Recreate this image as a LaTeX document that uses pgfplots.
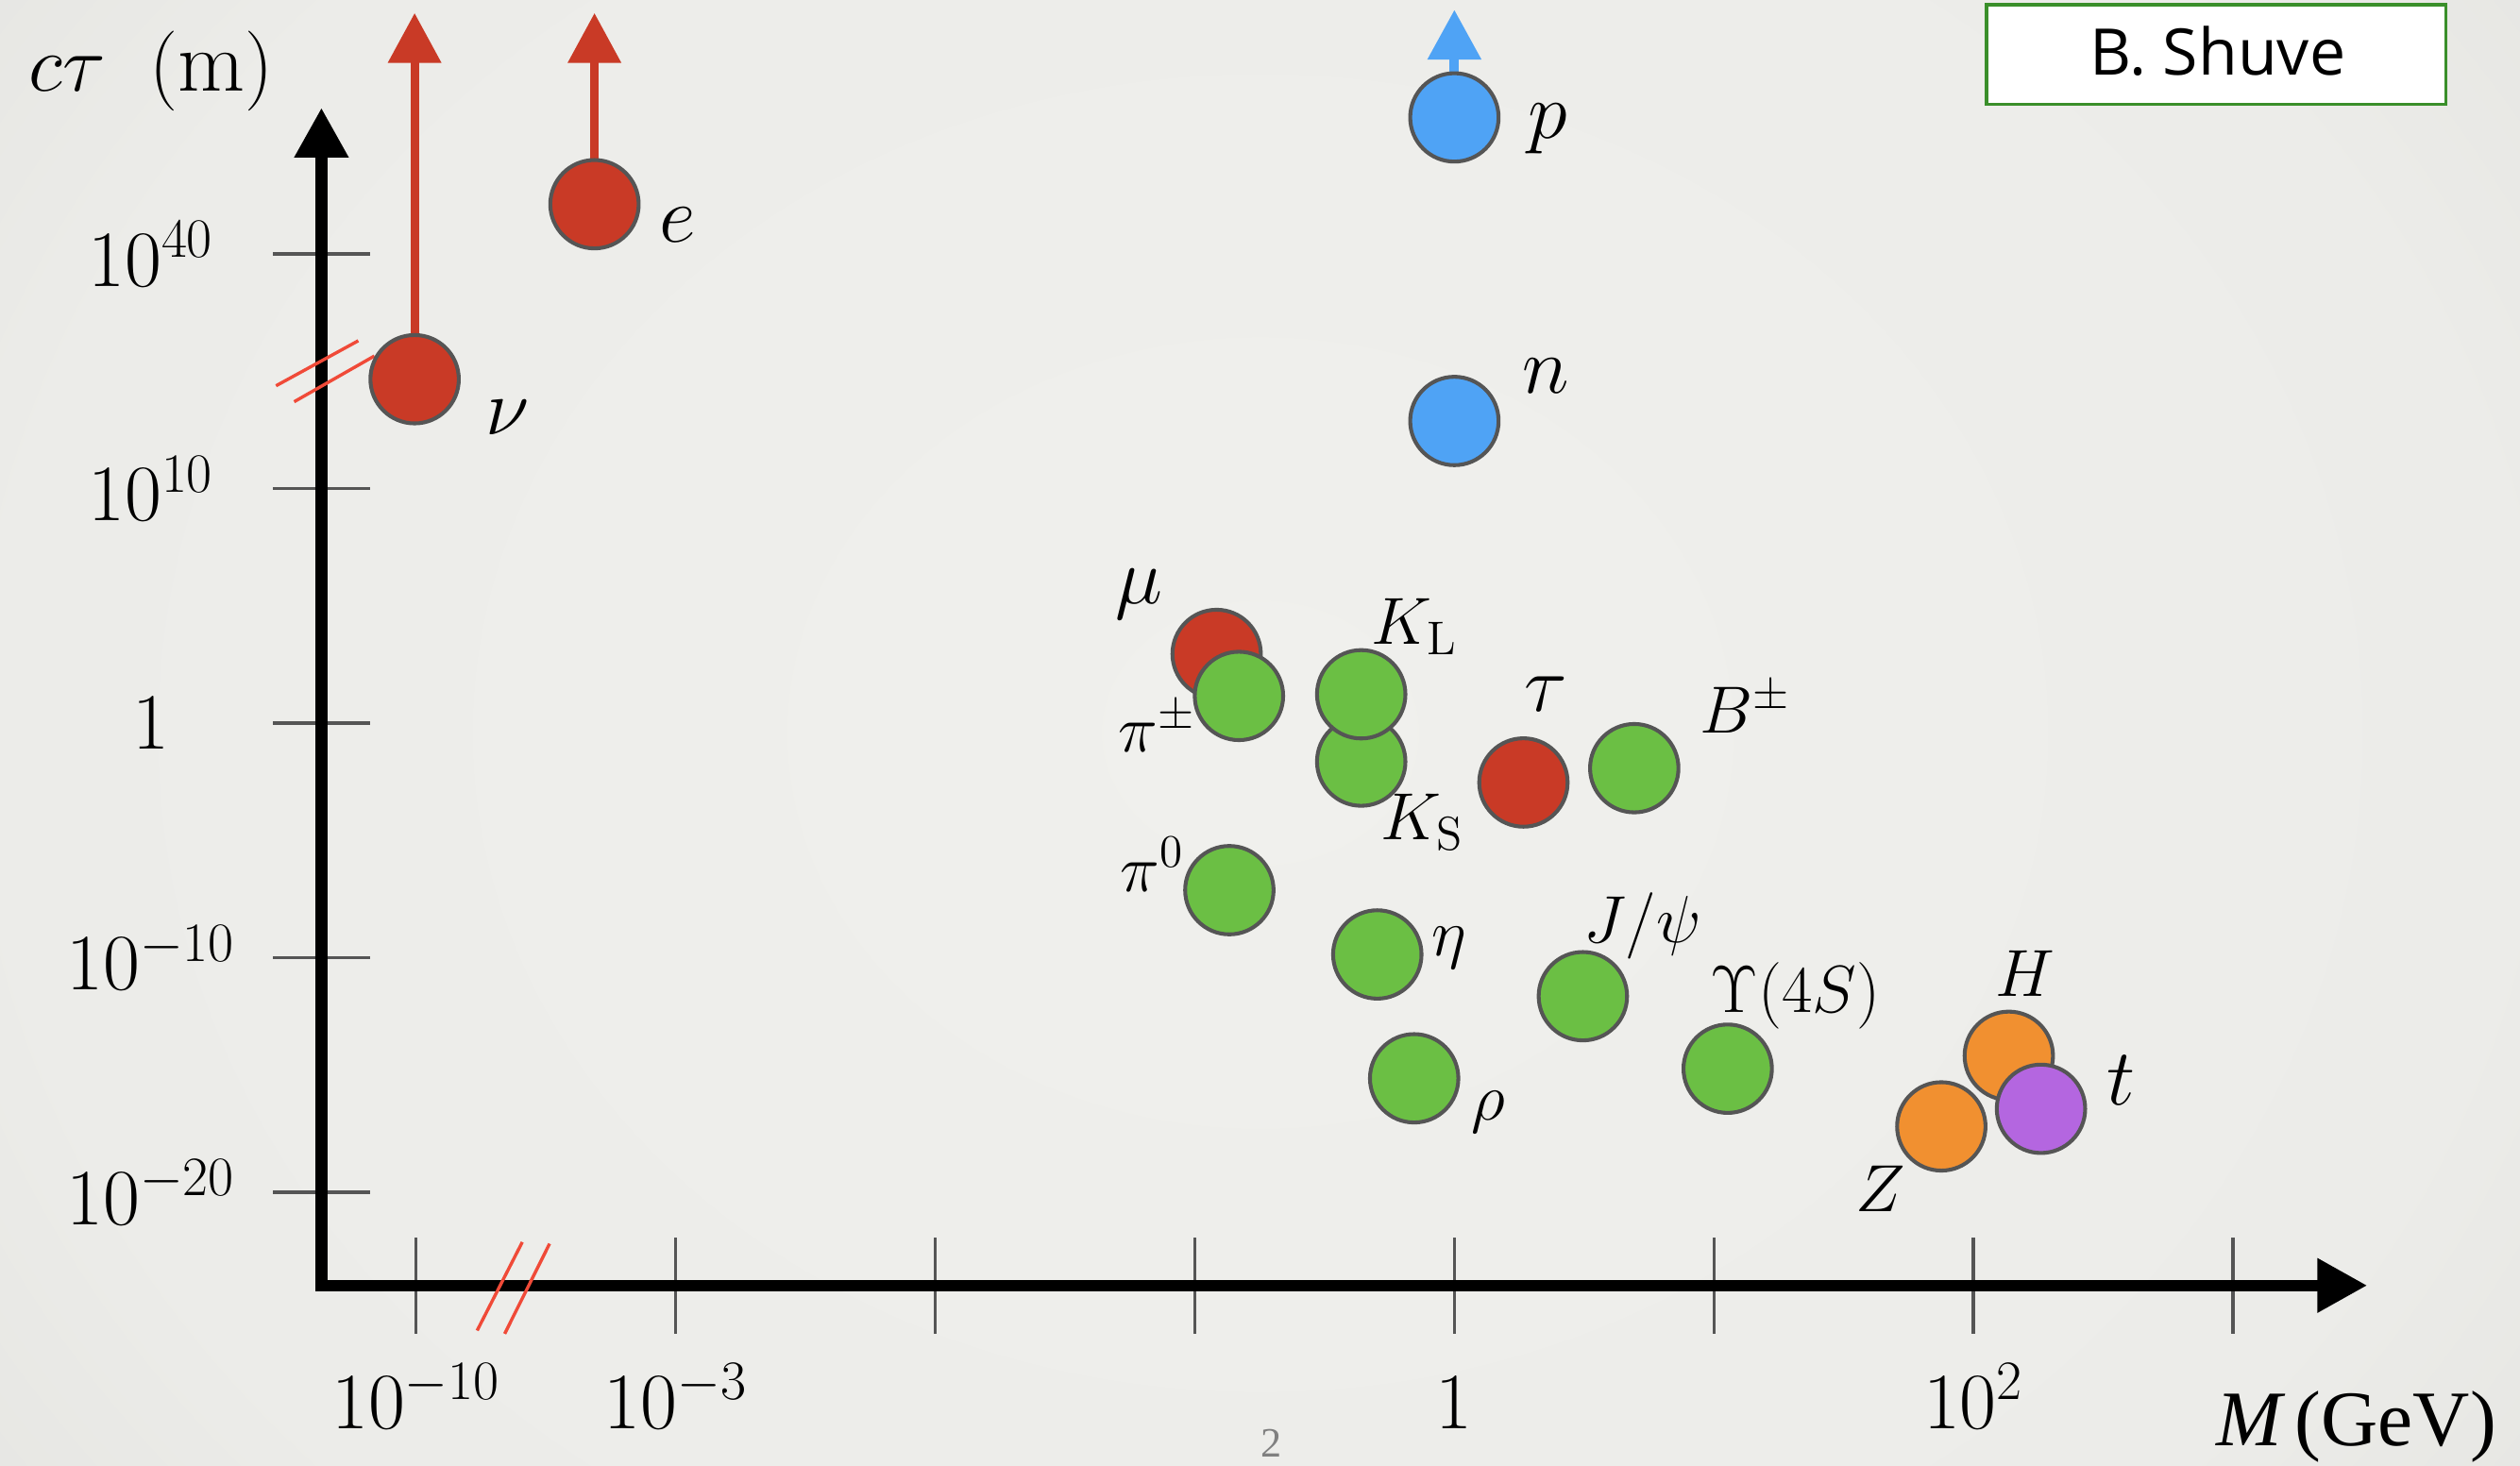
\documentclass[border=0pt]{standalone}
\usepackage{pgfplots}
\pgfplotsset{compat=1.18}
\usepackage{fontspec}
\usetikzlibrary{arrows.meta}
\newfontfamily\timesf{Liberation Serif}
\newfontfamily\sansf{Open Sans}
\definecolor{bg0}{HTML}{F0F0ED}
\definecolor{bg1}{HTML}{ECECE9}
\definecolor{bg2}{HTML}{E3E3DF}
\definecolor{bg3}{HTML}{D8D8D3}
\definecolor{bg4}{HTML}{CBCBC5}
\definecolor{bg5}{HTML}{C6C6C0}
\definecolor{pred}{HTML}{C93A26}
\definecolor{pgreen}{HTML}{6BBF44}
\definecolor{pblue}{HTML}{4FA3F5}
\definecolor{porange}{HTML}{F19030}
\definecolor{ppurple}{HTML}{B466E0}
\definecolor{edge}{HTML}{555555}
\definecolor{brk}{HTML}{F04A38}
\definecolor{boxg}{HTML}{3A8F2A}
\pgfdeclareradialshading{slidebg}{\pgfpoint{0bp}{0bp}}{color(0bp)=(bg0); color(25bp)=(bg1); color(35bp)=(bg2); color(43bp)=(bg3); color(50bp)=(bg4); color(71bp)=(bg5)}
\pgfplotsset{
  ball/.style={only marks, mark=*, mark size=13.75pt,
    mark options={draw=edge, line width=1.2pt, fill=#1}},
  upar/.style={line width=#1, -{Triangle[width=16pt,length=15.5pt]}},
}
\begin{document}
\begin{tikzpicture}
\useasboundingbox (0,0) rectangle (784pt,456pt);
\shade[shading=slidebg] (0,-100pt) rectangle (784pt,556pt);
\begin{axis}[
  at={(100pt,56pt)}, anchor=south west,
  x=80.75pt, y=73pt,
  xmin=-4.365, xmax=3.517, ymin=-2.397, ymax=2.623,
  axis lines=left,
  clip=false,
  every outer x axis line/.append style={line width=3.6pt, black, line cap=rect, -{Triangle[width=16pt,length=15.5pt]}},
  every outer y axis line/.append style={line width=3.6pt, black, line cap=rect, -{Triangle[width=16pt,length=15.5pt]}},
  x axis line style={line width=3.6pt, black, line cap=rect, -{Triangle[width=16pt,length=15.5pt]}},
  y axis line style={line width=3.6pt, black, line cap=rect, -{Triangle[width=16pt,length=15.5pt]}},
  xtick={-4,-3,-2,-1,0,1,2,3},
  xticklabels={$10^{-10}$,$10^{-3}$,{},{},$1$,{},$10^{2}$,{}},
  ytick={-2,-1,0,1,2},
  yticklabels={$10^{-20}$,$10^{-10}$,$1$,$10^{10}$,$10^{40}$},
  tick align=center,
  major tick length=30pt,
  tick style={line width=1pt, color=edge},
  ticklabel style={font=\fontsize{24}{28}\selectfont},
  xticklabel style={anchor=base, yshift=-29.5pt},
  yticklabel style={anchor=center, xshift=-38pt},
]
% axis break marks
\addplot[brk, line width=1pt] coordinates {(-4.540,1.438) (-4.223,1.630)};
\addplot[brk, line width=1pt] coordinates {(-4.470,1.370) (-4.161,1.565)};
\addplot[brk, line width=1pt] coordinates {(-3.765,-2.589) (-3.591,-2.212)};
\addplot[brk, line width=1pt] coordinates {(-3.659,-2.603) (-3.486,-2.219)};
% lower-bound arrows
\addplot[pred, upar=2.6pt] coordinates {(-4.006,1.466) (-4.006,3.027)};
\addplot[pred, upar=2.6pt] coordinates {(-3.313,2.212) (-3.313,3.027)};
\addplot[pblue, upar=3pt] coordinates {(0,2.582) (0,3.041)};
% particles
\addplot[ball=pred] coordinates {(-4.006,1.466) (-3.313,2.212)};
\addplot[ball=pblue] coordinates {(0,2.582) (0,1.288)};
\addplot[ball=pred] coordinates {(-0.916,0.295)};
\addplot[ball=pgreen] coordinates {(-0.830,0.116) (-0.359,-0.164) (-0.359,0.123)};
\addplot[ball=pred] coordinates {(0.266,-0.253)};
\addplot[ball=pgreen] coordinates {(0.693,-0.192) (-0.867,-0.712) (-0.297,-0.986) (0.495,-1.164) (-0.155,-1.514) (1.053,-1.473)};
\addplot[ball=porange] coordinates {(2.136,-1.418) (1.876,-1.719)};
\addplot[ball=ppurple] coordinates {(2.260,-1.644)};
% labels
\begin{scope}[every node/.style={font=\fontsize{27}{30}\selectfont}]
\node at (axis cs:-3.647,1.301) {$\nu$};
\node at (axis cs:-2.991,2.123) {$e$};
\node at (axis cs:0.359,2.534) {$p$};
\node at (axis cs:0.353,1.479) {$n$};
\node at (axis cs:-1.214,0.548) {$\mu$};
\node at (axis cs:0.353,0.123) {$\tau$};
\node at (axis cs:2.570,-1.521) {$t$};
\end{scope}
\begin{scope}[every node/.style={font=\fontsize{21}{25}\selectfont}]
\node at (axis cs:-1.146,-0.014) {$\pi^{\pm}$};
\node at (axis cs:-0.155,0.411) {$K_{\mathrm{L}}$};
\node at (axis cs:-0.124,-0.425) {$K_{\mathrm{S}}$};
\node at (axis cs:1.121,0.068) {$B^{\pm}$};
\node at (axis cs:-1.164,-0.603) {$\pi^{0}$};
\node at (axis cs:-0.019,-0.959) {$\eta$};
\node at (axis cs:0.724,-0.863) {$J/\psi$};
\node at (axis cs:0.130,-1.658) {$\rho$};
\node at (axis cs:1.313,-1.164) {$\Upsilon(4S)$};
\node at (axis cs:2.198,-1.068) {$H$};
\node at (axis cs:1.641,-1.986) {$Z$};
\end{scope}
\end{axis}
% axis titles
\node[font=\fontsize{27}{32}\selectfont] at (47pt,434pt) {$c\tau$\hspace{0.5em}$(\mathrm{m})$};
\node[anchor=base west, font=\timesf\fontsize{24.5}{28}\selectfont] at (686pt,6.2pt) {\itshape M\upshape\,(GeV)};
\node[font=\timesf\fontsize{13}{15}\selectfont, text=gray] at (395.5pt,7pt) {2};
% author box
\draw[boxg, line width=1pt, fill=white] (618pt,423.5pt) rectangle (761pt,454.5pt);
\node[anchor=base, font=\sansf\fontsize{20}{24}\selectfont] at (690pt,432.5pt) {B. Shuve};
\end{tikzpicture}
\end{document}
